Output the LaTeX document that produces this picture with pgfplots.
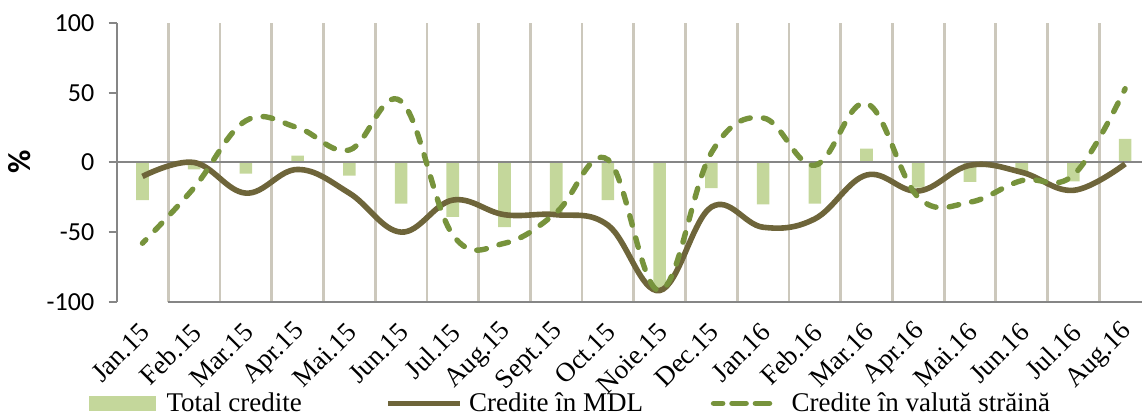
\documentclass[border=0pt]{standalone}
\usepackage{pgfplots}
\pgfplotsset{compat=1.18}
\usepackage{fontspec}
\setmainfont{Liberation Serif}
\newfontfamily\carlito{Carlito}
\definecolor{barfill}{RGB}{196,215,155}
\definecolor{mdl}{RGB}{110,101,58}
\definecolor{val}{RGB}{119,147,60}
\definecolor{gridc}{RGB}{204,200,188}
\definecolor{axgray}{RGB}{134,134,134}
\begin{document}
\begin{tikzpicture}
\begin{axis}[
  at={(58.3pt,-150.85pt)}, anchor=south west,
  scale only axis, width=517.2pt, height=139.2pt,
  xmin=-0.5, xmax=19.5, ymin=-100, ymax=100,
  clip=false,
  axis lines*=left,
  x axis line style={draw=none},
  y axis line style={axgray, line width=1pt},
  xtick={0,...,19},
  xticklabels={Jan.15,Feb.15,Mar.15,Apr.15,Mai.15,Jun.15,Jul.15,Aug.15,Sept.15,Oct.15,Noie.15,Dec.15,Jan.16,Feb.16,Mar.16,Apr.16,Mai.16,Jun.16,Jul.16,Aug.16},
  x tick style={draw=none},
  minor xtick={0.5,1.5,...,18.5},
  xminorgrids, minor grid style={gridc, line width=1.4pt},
  minor x tick style={draw=none},
  ytick={-100,-50,0,50,100},
  yticklabels={-100,-50,0,50,100},
  y tick style={axgray, line width=1pt},
  tick align=outside, major tick length=4pt,
  yticklabel style={font=\fontsize{13}{15}\selectfont\carlito, inner sep=0pt, anchor=east, xshift=-7pt},
  xticklabel style={font=\fontsize{13.5}{16}\selectfont, inner sep=0pt, xshift=1.5pt, yshift=-9pt, rotate=45, anchor=east},
  ylabel={\%},
  ylabel style={font=\fontsize{16}{18}\selectfont\carlito\bfseries, at={(axis description cs:-0.0934,0.502)}, anchor=center},
  legend columns=3,
  legend style={at={(-0.0275,-0.365)}, anchor=west, draw=none, fill=none, inner sep=0pt,
    nodes={inner sep=0pt}, font=\fontsize{13.5}{16}\selectfont,
    /tikz/every odd column/.append style={column sep=3pt}},
]
\addplot[ybar, bar width=6.3pt, fill=barfill, draw=none,
  legend image code/.code={\fill[barfill] (0pt,-3.75pt) rectangle (33.5pt,3.75pt); \path (36pt,0pt);}]
  coordinates {(0,-27) (1,-5) (2,-8) (3,5) (4,-9.5) (5,-29.5) (6,-39) (7,-46.5) (8,-36) (9,-27)
    (10,-90) (11,-18.5) (12,-30) (13,-29.5) (14,10) (15,-18) (16,-14) (17,-7) (18,-13.5) (19,17)};
\addlegendentry{\makebox[109.5pt][l]{Total credite}}
\draw[axgray, line width=1pt] (axis cs:-0.5,0) -- (axis cs:19.5,0);
\draw[axgray, line width=1pt] (axis cs:0.5,-100) -- (axis cs:19.5,-100);
\addplot[mdl, line width=2.8pt, smooth, tension=0.65, no markers,
  legend image code/.code={\draw[mdl, line width=2.8pt] (0pt,0pt) -- (36pt,0pt);}]
  coordinates {(0,-10) (1,0) (2,-22) (3,-5) (4,-22) (5,-50) (6,-27) (7,-37.5) (8,-37.5) (9,-45)
    (10,-92) (11,-32) (12,-46.5) (13,-40.5) (14,-9) (15,-20.5) (16,-2) (17,-7) (18,-20) (19,-1)};
\addlegendentry{\makebox[119.5pt][l]{Credite în MDL}}
\addplot[val, line width=2.7pt, smooth, tension=0.65, no markers, line cap=round, dash pattern=on 4.9pt off 6.6pt, dash phase=2.5pt,
  legend image code/.code={\draw[val, line width=2.8pt, line cap=round, dash pattern=on 7pt off 4.7pt] (1.4pt,0pt) -- (33pt,0pt); \path (0pt,0pt) (36pt,0pt);}]
  coordinates {(0,-58) (1,-18) (2,30) (3,25) (4,9) (5,44) (6,-52) (7,-58) (8,-36) (9,2)
    (10,-92) (11,7) (12,32) (13,-2) (14,42.5) (15,-25) (16,-28.5) (17,-13) (18,-9) (19,53)};
\addlegendentry{Credite în valută străină}
\end{axis}
\pgfresetboundingbox
\useasboundingbox (0pt,0pt) rectangle (571pt,-208pt);
\end{tikzpicture}
\end{document}
